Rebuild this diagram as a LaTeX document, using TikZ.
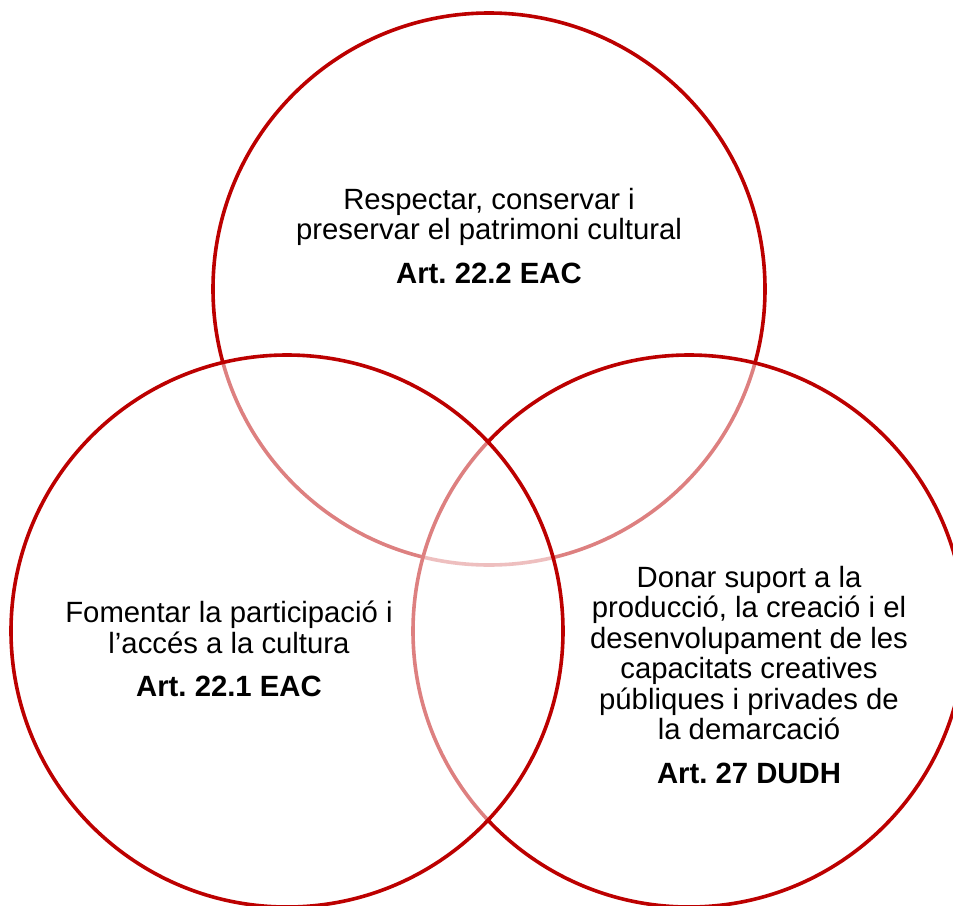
\documentclass[tikz,border=0pt]{standalone}
\usepackage{fontspec}
\setmainfont{Liberation Sans}
\definecolor{vennred}{HTML}{BC0000}
\tikzset{
  venn/.style={circle, draw=vennred, line width=3.6pt, fill=white, fill opacity=.5, minimum size=552pt, inner sep=0pt},
  venntext/.style={align=center, anchor=north, inner sep=0pt, font=\fontsize{29.3}{30.5}\selectfont\frenchspacing},
}
\begin{document}
\begin{tikzpicture}[x=1pt, y=-1pt]
    \clip (0,0) rectangle (953,905);

    % circles, bottom one first
    \node[venn] (cresp) at (489,289) {};
    \node[venn] (csuport) at (689,631) {};
    \node[venn] (cfoment) at (287,631) {};

    \node[venntext] (resp) at (489,188) {Respectar, conservar i\\preservar el patrimoni cultural\\[13pt]\textbf{Art. 22.2 EAC}};
    \node[venntext] (foment) at (229,601) {Fomentar la participació i\\l’accés a la cultura\\[13pt]\textbf{Art. 22.1 EAC}};
    \node[venntext] (suport) at (749,566) {Donar suport a la\\producció, la creació i el\\desenvolupament de les\\capacitats creatives\\públiques i privades de\\la demarcació\\[13pt]\textbf{Art. 27 DUDH}};
\end{tikzpicture}
\end{document}
